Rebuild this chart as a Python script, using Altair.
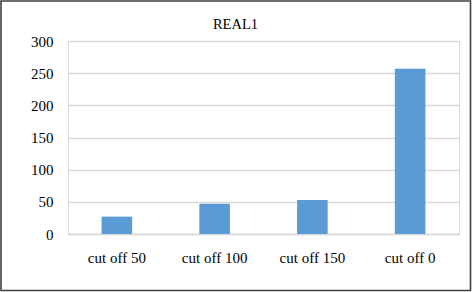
import altair as alt
import pandas as pd

categories = ["cut off 50", "cut off 100", "cut off 150", "cut off 0"]
values = [27, 47, 53, 257]
y_ticks = [0, 50, 100, 150, 200, 250, 300]

df = pd.DataFrame({"category": categories, "value": values})

FONT = "Liberation Serif"

bars = alt.Chart(df).mark_bar(color="#5b9bd5").encode(
    x=alt.X(
        "category:N",
        sort=categories,
        title=None,
        scale=alt.Scale(paddingInner=0.687, paddingOuter=0.3435),
        axis=alt.Axis(
            labelAngle=0, labelFont=FONT, labelFontSize=15, labelColor="#000000",
            labelPadding=16, ticks=False, domain=True, domainColor="#d9d9d9",
            domainWidth=1.3, grid=False,
        ),
    ),
    y=alt.Y(
        "value:Q",
        title=None,
        scale=alt.Scale(domain=[0, 300], nice=False),
        axis=alt.Axis(
            values=y_ticks, labelFont=FONT, labelFontSize=15, labelColor="#000000",
            labelPadding=15, ticks=False, domain=False, grid=True,
            gridColor="#d9d9d9", gridWidth=1.3,
        ),
    ),
)

border = alt.Chart(alt.Data(values=[{"a": 1}])).mark_rect(
    filled=False, stroke="#404040", strokeWidth=1.6
).encode(
    x=alt.value(-67), x2=alt.value(402.5), y=alt.value(-40), y2=alt.value(249.5)
)

chart = alt.layer(bars, border).properties(
    width=391,
    height=193,
    autosize=alt.AutoSizeParams(type="none"),
    padding={"left": 68, "top": 41, "right": 13, "bottom": 58},
    title=alt.TitleParams(
        "REAL1", font=FONT, fontSize=14.5, fontWeight="normal", color="#000000",
        anchor="middle", dx=-28, dy=56, baseline="alphabetic", offset=13,
    ),
).configure_view(stroke=None).configure(background="white")

chart.save("out.html", embed_options={"renderer": "svg", "actions": False})
